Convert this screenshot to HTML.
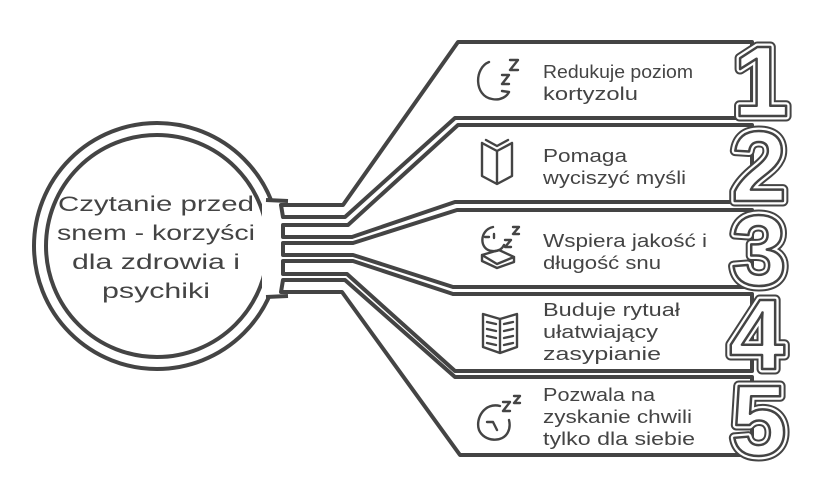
<!DOCTYPE html>
<html><head><meta charset="utf-8"><style>
html,body{margin:0;padding:0;background:#fff;}
svg{display:block;}
.t{font-family:"Liberation Sans",sans-serif;fill:#444;font-size:18px;}
.c{font-family:"Liberation Sans",sans-serif;fill:#444;font-size:21px;}
.n{font-family:"Liberation Sans",sans-serif;font-weight:bold;font-size:100px;}
</style></head><body>
<svg width="828" height="500" viewBox="0 0 828 500" xmlns="http://www.w3.org/2000/svg">
<g fill="none" stroke="#444" stroke-linejoin="round">
<circle cx="157" cy="246" r="123" stroke-width="4"/>
<circle cx="157" cy="246" r="111" stroke-width="4"/>
</g>
<rect x="262" y="201" width="30" height="96" fill="#fff"/>
<path d="M266,200 L288,201 M266,297 L288,296" stroke="#444" stroke-width="4"/>
<g fill="#fff" stroke="#444" stroke-width="4" stroke-linejoin="round">
<polygon points="281,205 343,205 458,42 752,42 752,118 455,118 345,217 283,217"/>
<polygon points="283,225 348,225 458,125 752,125 752,202 455,202 352,237 283,237"/>
<polygon points="283,243 353,243 457,210 752,210 752,287 453,287 353,255 283,255"/>
<polygon points="283,261 353,261 453,294 752,294 752,371 455,371 347,274 283,274"/>
<polygon points="283,280 345,280 455,377 752,377 752,455 460,455 342,292 281,292"/>
</g>
<g class="n" text-anchor="middle">
<g stroke="#444" stroke-width="11" fill="#444" stroke-linejoin="round">
<text x="761" y="116">1</text><text x="759" y="201">2</text><text x="759" y="285">3</text><text x="757" y="369">4</text><text x="759" y="455">5</text>
</g>
<g stroke="#fff" stroke-width="7" fill="#fff" stroke-linejoin="round">
<text x="761" y="116">1</text><text x="759" y="201">2</text><text x="759" y="285">3</text><text x="757" y="369">4</text><text x="759" y="455">5</text>
</g>
<g stroke="#444" stroke-width="2.5" fill="#fff" stroke-linejoin="round">
<text x="761" y="116">1</text><text x="759" y="201">2</text><text x="759" y="285">3</text><text x="757" y="369">4</text><text x="759" y="455">5</text>
</g>
</g>
<g class="c" text-anchor="middle">
<text x="156" y="211" textLength="196" lengthAdjust="spacingAndGlyphs">Czytanie przed</text>
<text x="156" y="240" textLength="198" lengthAdjust="spacingAndGlyphs">snem - korzyści</text>
<text x="156" y="269" textLength="168" lengthAdjust="spacingAndGlyphs">dla zdrowia i</text>
<text x="156" y="298" textLength="108" lengthAdjust="spacingAndGlyphs">psychiki</text>
</g>
<g class="t">
<text x="543" y="78" textLength="150" lengthAdjust="spacingAndGlyphs">Redukuje poziom</text>
<text x="543" y="100" textLength="95" lengthAdjust="spacingAndGlyphs">kortyzolu</text>
<text x="543" y="162" textLength="84" lengthAdjust="spacingAndGlyphs">Pomaga</text>
<text x="543" y="184" textLength="143" lengthAdjust="spacingAndGlyphs">wyciszyć myśli</text>
<text x="543" y="247" textLength="164" lengthAdjust="spacingAndGlyphs">Wspiera jakość i</text>
<text x="543" y="269" textLength="118" lengthAdjust="spacingAndGlyphs">długość snu</text>
<text x="543" y="316" textLength="137" lengthAdjust="spacingAndGlyphs">Buduje rytuał</text>
<text x="543" y="338" textLength="115" lengthAdjust="spacingAndGlyphs">ułatwiający</text>
<text x="543" y="360" textLength="118" lengthAdjust="spacingAndGlyphs">zasypianie</text>
<text x="543" y="401" textLength="112" lengthAdjust="spacingAndGlyphs">Pozwala na</text>
<text x="543" y="423" textLength="149" lengthAdjust="spacingAndGlyphs">zyskanie chwili</text>
<text x="543" y="445" textLength="152" lengthAdjust="spacingAndGlyphs">tylko dla siebie</text>
</g>
<g fill="none" stroke="#444" stroke-width="2.4" stroke-linecap="round" stroke-linejoin="round">
<path d="M489,62 C474,68 474,96 492,99 C501,101 507,96 509,92 L502,91"/>
<path d="M502,75 l7,0 l-7,9 l7,0 M510,60 l8,0 l-8,10 l8,0"/>
<path d="M482,143 L482,176 L497,184 L512,176 L512,143 M482,143 L497,151 L512,143 M497,151 L497,184 M486,140 L497,146 L508,140"/>
<path d="M493,227 C479,230 479,250 492,251 C500,252 503,247 504,245 M485,237 l4,0 M494,234 l0,4"/>
<path d="M505,240 l6,0 l-6,7 l6,0 M513,227 l6,0 l-6,7 l6,0"/>
<path d="M482,255 L499,250 L514,257 L497,264 Z M482,255 L482,261 L497,268 L514,262 L514,257"/>
<path d="M483,314 L483,347 L500,353 L517,347 L517,314 L500,319 Z M500,319 L500,353 M487,322 l9,2 M487,329 l9,2 M487,336 l9,2 M487,343 l9,2 M504,324 l9,-2 M504,331 l9,-2 M504,338 l9,-2 M504,345 l9,-2"/>
<path d="M500,406 C485,402 475,418 479,430 C484,442 503,443 508,432 C510,428 510,424 509,420"/>
<path d="M487,422 l6,0 l4,8"/>
<path d="M503,402 l7,0 l-7,9 l7,0 M514,396 l6,0 l-6,7 l6,0"/>
</g>
</svg>
</body></html>
